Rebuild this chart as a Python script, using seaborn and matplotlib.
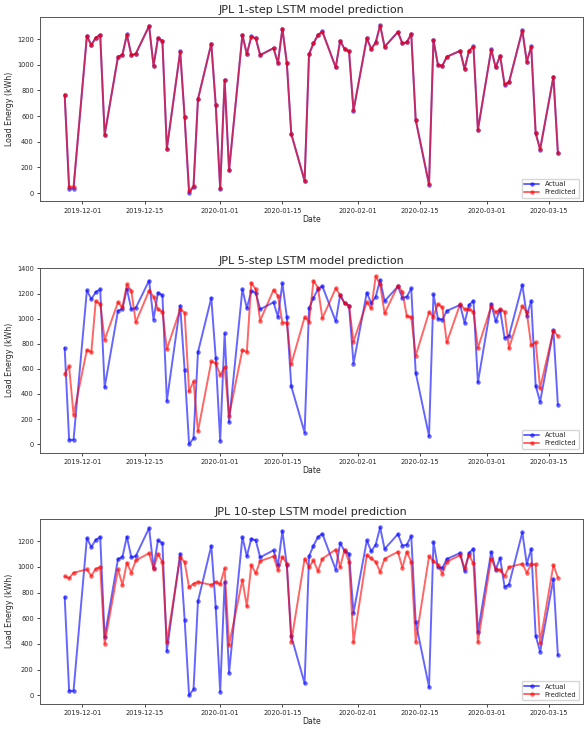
import matplotlib
matplotlib.use("Agg")
import matplotlib.dates as mdates
import matplotlib.pyplot as plt
import pandas as pd
import seaborn as sns

# business days between the first and last test sample
dates = pd.bdate_range("2019-11-27", "2020-03-17")

actual = [
    767, 35, 35,
    1225, 1155, 1212, 1233, 453,
    1062, 1078, 1236, 1075, 1085,
    1303, 992, 1207, 1186, 345,
    1104, 590, 0, 47, 733,
    1165, 686, 28, 883, 176,
    1233, 1083, 1220, 1207, 1075,
    1130, 1013, 1282, 1013, 461,
    93, 1083, 1166, 1233, 1259,
    979, 1187, 1122, 1104, 642,
    1207, 1122, 1174, 1308, 1140,
    1256, 1166, 1174, 1241, 570,
    65, 1194, 1000, 992, 1062,
    1109, 966, 1109, 1142, 492,
    1119, 979, 1070, 845, 863,
    1269, 1023, 1142, 466, 339,
    907, 313,
]

pred_1step = [
    767, 50, 50,
    1220, 1150, 1210, 1230, 455,
    1062, 1078, 1232, 1075, 1085,
    1300, 992, 1205, 1186, 347,
    1102, 590, 15, 57, 730,
    1163, 686, 40, 880, 178,
    1230, 1083, 1218, 1205, 1075,
    1128, 1013, 1280, 1013, 461,
    98, 1083, 1166, 1230, 1257,
    980, 1185, 1122, 1104, 644,
    1205, 1122, 1172, 1305, 1140,
    1254, 1166, 1174, 1239, 572,
    70, 1192, 1000, 992, 1062,
    1107, 966, 1109, 1140, 494,
    1117, 979, 1070, 847, 863,
    1266, 1023, 1140, 468, 341,
    905, 315,
]

pred_5step = [
    561, 619, 235,
    751, 733, 1140, 1116, 831,
    1130, 1090, 1272, 1222, 971,
    1222, 1175, 1074, 1056, 757,
    1074, 1048, 421, 500, 103,
    659, 646, 553, 611, 228,
    751, 733, 1286, 1233, 984,
    1228, 1183, 968, 968, 638,
    1011, 976, 1302, 1246, 1003,
    1241, 1188, 1122, 1103, 817,
    1130, 1082, 1337, 1272, 1042,
    1262, 1214, 1021, 1011, 704,
    1050, 1016, 1116, 1090, 810,
    1116, 1074, 1074, 1056, 765,
    1100, 1050, 1074, 1056, 765,
    1100, 1050, 786, 812, 447,
    905, 862,
]

pred_10step = [
    927, 912, 955,
    981, 930, 986, 999, 402,
    981, 860, 1033, 955, 1051,
    1107, 986, 1102, 1038, 415,
    1076, 1038, 840, 870, 883,
    860, 883, 865, 989, 394,
    899, 693, 1015, 950, 1046,
    1082, 976, 1079, 1025, 417,
    1064, 999, 1051, 968, 1064,
    1136, 999, 1136, 1040, 415,
    1092, 1066, 1040, 961, 1064,
    1118, 994, 1118, 1040, 417,
    1082, 1046, 1015, 948, 1040,
    1092, 989, 1092, 1028, 415,
    1064, 986, 976, 930, 999,
    1025, 955, 1020, 1020, 409,
    1015, 917,
]

steps = [1, 5, 10]
predictions = [pred_1step, pred_5step, pred_10step]

sns.set_style("ticks")
plt.rcParams["font.family"] = ["DejaVu Sans"]

fig = plt.figure(figsize=(5.84, 7.30), dpi=100)
tops = [0.977, 0.633, 0.289]
height = 0.253

for top, step, pred in zip(tops, steps, predictions):
    ax = fig.add_axes([0.0685, top - height, 0.929, height])
    sns.lineplot(x=dates, y=actual, ax=ax, color="blue", alpha=0.6,
                 marker="o", markersize=3.2, markeredgewidth=0,
                 linewidth=1.4, label="Actual")
    sns.lineplot(x=dates, y=pred, ax=ax, color="red", alpha=0.6,
                 marker="o", markersize=3.2, markeredgewidth=0,
                 linewidth=1.4, label="Predicted")
    ax.xaxis.set_major_locator(mdates.DayLocator(bymonthday=[1, 15]))
    ax.xaxis.set_major_formatter(mdates.DateFormatter("%Y-%m-%d"))
    ax.tick_params(labelsize=4.8, length=2.5, width=0.6, pad=2)
    for spine in ax.spines.values():
        spine.set_linewidth(0.7)
        spine.set_color("#555555")
        spine.set_visible(True)
    ax.set_title(f"JPL {step}-step LSTM model prediction", fontsize=8, pad=3)
    ax.set_xlabel("Date", fontsize=5.6, labelpad=1)
    ax.set_ylabel("Load Energy (kWh)", fontsize=5.6, labelpad=2)
    ax.legend(loc="lower right", fontsize=4.9, handlelength=2.2,
              borderpad=0.4, labelspacing=0.3, framealpha=0.8)

fig.savefig("out.png", dpi=100)
plt.close(fig)
